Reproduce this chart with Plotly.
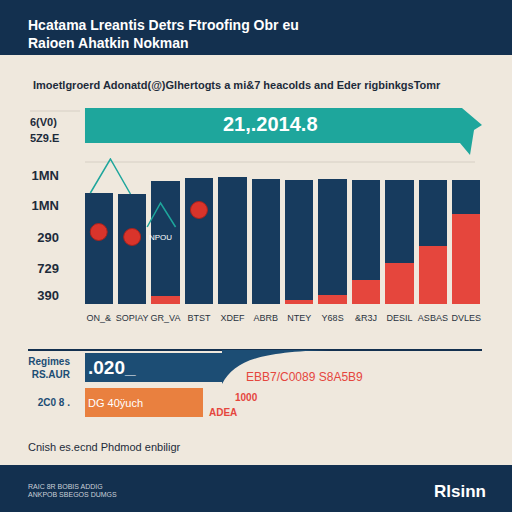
import plotly.graph_objects as go

# upper bar chart (stacked: red base + navy remainder)
bar_labels = ["ON_&", "SOPIAY", "GR_VA", "BTST", "XDEF", "ABRB", "NTEY", "Y68S", "&R3J", "DESIL", "ASBAS", "DVLES"]
bar_totals = [111, 110, 123, 126, 127, 125, 124, 125, 124, 124, 124, 124]
bar_red = [0, 0, 8, 0, 0, 0, 4, 9, 24, 41, 58, 90]
y_tick_vals = [9, 36, 67, 99, 129]
y_tick_text = ["<b>390</b>", "<b>729</b>", "<b>290</b>", "<b>1MN</b>", "<b>1MN</b>"]

# lower horizontal bars
hbar_labels = ["<b>Regimes</b><br><b>RS.AUR</b>", "<b>2C0 8 .</b>"]
hbar_values = [137, 118]
hbar_text = ["<b>.020_</b>", "DG 40ÿuch"]

NAVY = "#13304f"
BAR_NAVY = "#173b5e"
RED = "#e5463d"
TEAL = "#1ea69c"
BG = "#efe8dd"
FONT = "Liberation Sans, Arial, sans-serif"

W = H = 512
def px(x): return x / W
def py(y): return 1 - y / H

def path(points):
    return "M " + " L ".join(f"{px(x):.4f},{py(y):.4f}" for x, y in points) + " Z"

idx = list(range(len(bar_labels)))
navy_part = [t - r for t, r in zip(bar_totals, bar_red)]

fig = go.Figure()
fig.add_trace(go.Bar(x=idx, y=bar_red, marker_color=RED, marker_line_width=0, showlegend=False))
fig.add_trace(go.Bar(x=idx, y=navy_part, marker_color=BAR_NAVY, marker_line_width=0, showlegend=False))

# decorations on the first bars
fig.add_trace(go.Scatter(x=[-0.25, 0.35, 0.95], y=[bar_totals[0], max(bar_totals) + 18, bar_totals[1]],
                         mode="lines", line=dict(color=TEAL, width=1.5), cliponaxis=False, showlegend=False))
fig.add_trace(go.Scatter(x=[1.45, 1.85, 2.3], y=[77, 101, 77], mode="lines",
                         line=dict(color=TEAL, width=1.5), showlegend=False))
fig.add_trace(go.Scatter(x=[1.85], y=[66], mode="text", text=["NPOU"],
                         textfont=dict(color="white", size=8, family=FONT), showlegend=False))
fig.add_trace(go.Scatter(x=[0, 1, 3], y=[72, 67, 94], mode="markers",
                         marker=dict(color="#d9342b", size=17, line=dict(color="#a8221c", width=1)),
                         showlegend=False))

fig.add_trace(go.Bar(x=hbar_values, y=[0, 1], orientation="h", xaxis="x2", yaxis="y2",
                     marker_color=["#1c4d74", "#e9803f"], marker_line_width=0,
                     text=hbar_text, textposition="inside", insidetextanchor="start",
                     textfont=dict(color="white", size=[19, 11], family=FONT), showlegend=False))

fig.update_layout(
    width=W, height=H, margin=dict(l=0, r=0, t=0, b=0),
    paper_bgcolor=BG, plot_bgcolor="rgba(0,0,0,0)",
    barmode="stack", bargap=0.15,
    font=dict(family=FONT, color="#1d2b3a"),
    xaxis=dict(domain=[px(82), px(483)], range=[-0.5, 11.5], tickvals=idx, ticktext=bar_labels,
               tickfont=dict(size=9, color="#2a3340"), ticklabelstandoff=7,
               showgrid=False, zeroline=False, ticks="", showline=False),
    yaxis=dict(domain=[py(304), py(158)], range=[0, 146], tickvals=y_tick_vals, ticktext=y_tick_text,
               tickfont=dict(size=13, color="#1d2b3a"), ticklabelstandoff=22,
               showgrid=False, zeroline=False),
    xaxis2=dict(domain=[px(85), px(485)], range=[0, 400], anchor="y2", visible=False),
    yaxis2=dict(domain=[py(420), py(350)], range=[1.5, -0.5], anchor="x2", tickvals=[0, 1],
                ticktext=hbar_labels, tickfont=dict(size=10, color="#1c4d74"),
                ticklabelstandoff=14, showgrid=False, zeroline=False),
)

shapes = [
    dict(type="rect", xref="paper", yref="paper", x0=0, x1=1, y0=py(55), y1=1, fillcolor=NAVY, line_width=0, layer="below"),
    dict(type="rect", xref="paper", yref="paper", x0=0, x1=1, y0=0, y1=py(465), fillcolor=NAVY, line_width=0, layer="below"),
    dict(type="path", xref="paper", yref="paper", fillcolor=TEAL, line_width=0,
         path=path([(85, 108), (462, 108), (482, 125), (474, 130), (470, 155), (460, 143), (85, 143)])),
    dict(type="line", xref="paper", yref="paper", x0=px(30), x1=px(80), y0=py(111), y1=py(111), line=dict(color="#d6cfc4", width=1)),
    dict(type="line", xref="paper", yref="paper", x0=px(85), x1=px(475), y0=py(162), y1=py(162), line=dict(color="#d6cfc4", width=1), layer="below"),
    dict(type="line", xref="paper", yref="paper", x0=px(28), x1=px(482), y0=py(350), y1=py(350), line=dict(color=NAVY, width=2)),
    dict(type="path", xref="paper", yref="paper", fillcolor="#1c4d74", line_width=0,
         path=f"M {px(222):.4f},{py(350):.4f} L {px(330):.4f},{py(350):.4f} "
              f"C {px(260):.4f},{py(352):.4f} {px(235):.4f},{py(360):.4f} {px(222):.4f},{py(384):.4f} Z"),
]
fig.update_layout(shapes=shapes)

def note(x, y, text, size, color, anchor="left", bold=False):
    fig.add_annotation(xref="paper", yref="paper", x=px(x), y=py(y), text=f"<b>{text}</b>" if bold else text,
                       showarrow=False, xanchor=anchor, yanchor="middle",
                       font=dict(size=size, color=color, family=FONT))

note(26, 25, "Hcatama Lreantis Detrs Ftroofing Obr eu", 14, "white", bold=True)
note(26, 43, "Raioen Ahatkin Nokman", 14, "white", bold=True)
note(31, 85, "Imoetlgroerd Adonatd(@)Glhertogts a mi&7 heacolds and Eder rigbinkgsTomr", 11, "#1d2b3a", bold=True)
note(28, 122, "6(V0)", 11, "#1d2b3a", bold=True)
note(28, 138, "5Z9.E", 11, "#1d2b3a", bold=True)
note(270, 124, "21,.2014.8", 20, "white", anchor="center", bold=True)
note(244, 377, "EBB7/C0089 S8A5B9", 12, RED)
note(233, 397, "1000", 10, RED, bold=True)
note(207, 412, "ADEA", 10, RED, bold=True)
note(26, 447, "Cnish es.ecnd Phdmod enbiligr", 11, "#1d2b3a")
note(26, 486, "RAIC 8R BOBIS ADDIG", 7, "#c9cfd8")
note(26, 494, "ANKPOB SBEGOS DUMGS", 7, "#c9cfd8")
note(460, 491, "Rlsinn", 17, "white", anchor="center", bold=True)

fig.write_html("out.html", config={"displayModeBar": False},
               post_script="document.body.style.margin='0';")
